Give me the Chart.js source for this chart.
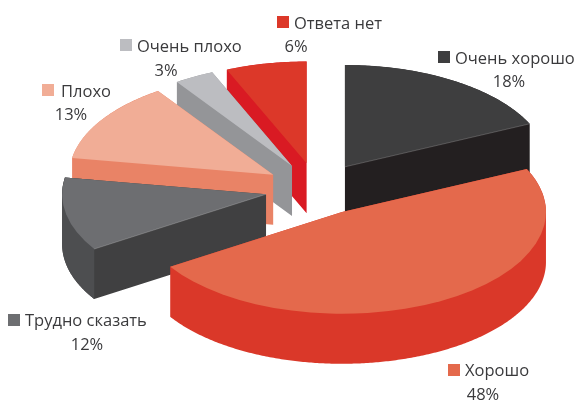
<!DOCTYPE html>
<html><head><meta charset="utf-8">
<style>html,body{margin:0;padding:0;background:#fff}canvas{display:block}</style>
<script src="https://cdn.jsdelivr.net/npm/chart.js@4"></script>
</head><body><canvas id="c" width="576" height="403"></canvas>
<script>
const categories = ['Очень хорошо','Хорошо','Трудно сказать','Плохо','Очень плохо','Ответа нет'];
const values = [18.05,47.9,11.7,12.8,3.15,6.4];
const percentLabels = ['18%','48%','12%','13%','3%','6%'];
const topColors = ['#3e3e3f','#e4694c','#6d6e71','#f1ad96','#bcbdc1','#dc3829'];
const wallColors = ['#231f20','#da3829','#404041','#e98366','#949598','#d91a23'];
const rimColors = [null,null,'#4d4e50',null,null,null];
const seamEdges = ['end',null,'start',null,null,null];
const paintOrder = [5,4,3,0,2,1];
// legend positions: square x, square y, text x, baseline, pct centre x, pct baseline
const labelBoxes = [
 [438,51,455,64,509,87],
 [448,364,465,376,483,400],
 [8,314,25,326,87,350],
 [42,84,61,97,71,120],
 [120,39,137,52,166,76],
 [277,16,294,29,296,52]
];
const CX=317, CY=189, SCALE_X=1.012, SQUASH=0.505, EXPLODE=52, DEPTH=50;

const pie3d = {
  id:'pie3d',
  beforeDatasetDraw(chart,args){
    const ctx=chart.ctx, arcs=args.meta.data;
    const drawTop=(el,color)=>{
      const mid=(el.startAngle+el.endAngle)/2;
      const o=el.options;
      ctx.save();
      ctx.translate(CX+Math.cos(mid)*EXPLODE, CY+Math.sin(mid)*EXPLODE*SQUASH);
      ctx.scale(SCALE_X,SQUASH);
      ctx.translate(-el.x,-el.y);
      el.options={backgroundColor:color,borderColor:color,borderWidth:0,borderAlign:'center',offset:0,spacing:0,circular:true};
      el.draw(ctx);
      el.options=o;
      ctx.restore();
    };
    // projected point of a slice at polar (radius, angle), taken from the arc element's geometry
    const proj=(el,r,a,dy)=>{
      const mid=(el.startAngle+el.endAngle)/2;
      return [CX+Math.cos(mid)*EXPLODE+SCALE_X*r*Math.cos(a),
              CY+Math.sin(mid)*EXPLODE*SQUASH+SQUASH*r*Math.sin(a)+dy];
    };
    const wall=(el,color)=>{
      const n=Math.ceil((el.endAngle-el.startAngle)/0.01);
      const pts=[proj(el,0,0,0)];
      for(let j=0;j<=n;j++) pts.push(proj(el,el.outerRadius,el.startAngle+(el.endAngle-el.startAngle)*j/n,0));
      const poly=(p)=>{
        let s=0;
        p.forEach((q,k)=>{const w=p[(k+1)%p.length]; s+=q[0]*w[1]-w[0]*q[1];});
        const list=s<0?p.slice().reverse():p;
        list.forEach((q,k)=>k?ctx.lineTo(q[0],q[1]):ctx.moveTo(q[0],q[1]));
        ctx.closePath();
      };
      ctx.beginPath();
      poly(pts);
      poly(pts.map(q=>[q[0],q[1]+DEPTH]));
      pts.forEach((q,k)=>{
        const w=pts[(k+1)%pts.length];
        poly([q,w,[w[0],w[1]+DEPTH],[q[0],q[1]+DEPTH]]);
      });
      ctx.fillStyle=color;
      ctx.fill('nonzero');
    };
    paintOrder.forEach(i=>{
      const el=arcs[i];
      wall(el,wallColors[i]);
      if(rimColors[i]){
        const cornerX=proj(el,el.outerRadius,el.startAngle,0)[0];
        ctx.save();
        ctx.beginPath(); ctx.rect(0,0,cornerX,chart.height); ctx.clip();
        wall(el,rimColors[i]);
        ctx.restore();
      }
      drawTop(el,topColors[i]);
      if(seamEdges[i]){
        const a=seamEdges[i]==='end'?el.endAngle:el.startAngle;
        const p=proj(el,0,0,0), q=proj(el,el.outerRadius,a,0);
        ctx.save();
        ctx.strokeStyle='rgba(255,255,255,0.3)';
        ctx.lineWidth=0.7;
        ctx.beginPath(); ctx.moveTo(p[0],p[1]); ctx.lineTo(q[0],q[1]); ctx.stroke();
        ctx.restore();
      }
    });
    return false;
  },
  afterDraw(chart){
    const ctx=chart.ctx;
    ctx.save();
    ctx.font='16.5px "Open Sans"';
    ctx.textBaseline='alphabetic';
    categories.forEach((name,i)=>{
      const b=labelBoxes[i];
      ctx.fillStyle=topColors[i];
      ctx.fillRect(b[0],b[1],12,12);
      ctx.fillStyle='#3a3a3c';
      ctx.textAlign='left';
      ctx.fillText(name,b[2],b[3]);
      ctx.textAlign='center';
      ctx.fillText(percentLabels[i],b[4],b[5]);
    });
    ctx.restore();
  }
};

new Chart(document.getElementById('c'),{
  type:'pie',
  data:{labels:categories,datasets:[{data:values,backgroundColor:topColors,borderWidth:0}]},
  options:{responsive:false,animation:false,
    layout:{padding:0},
    plugins:{legend:{display:false},tooltip:{enabled:false},title:{display:false}}},
  plugins:[pie3d]
});
</script></body></html>
